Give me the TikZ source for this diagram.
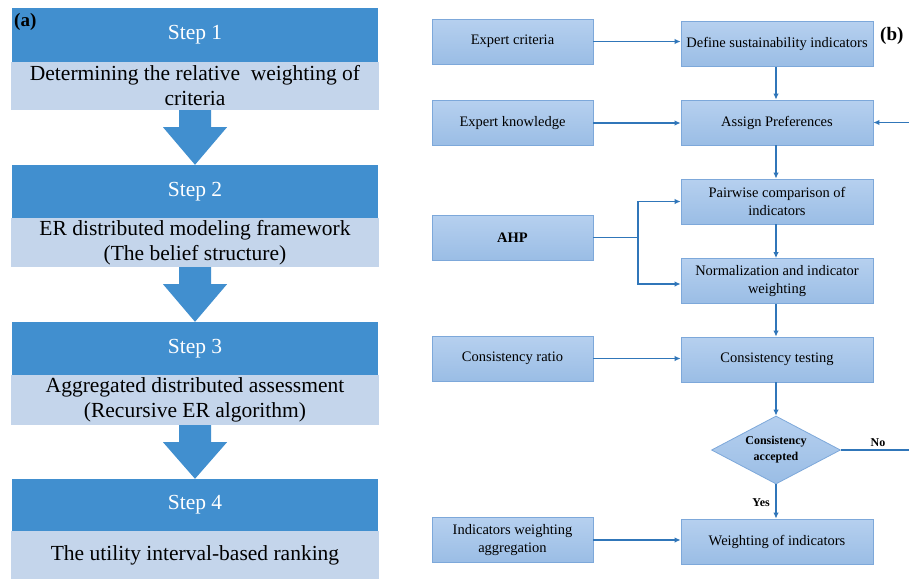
\documentclass[tikz,border=0pt]{standalone}
\usepackage{fontspec}
\setmainfont{Liberation Serif}
\usetikzlibrary{shapes.geometric,arrows.meta,calc}
\definecolor{dkblue}{RGB}{65,143,207}
\definecolor{ltblue}{RGB}{196,213,235}
\definecolor{boxtop}{RGB}{182,208,239}
\definecolor{boxbot}{RGB}{154,189,229}
\definecolor{boxline}{RGB}{125,168,218}
\definecolor{arr}{RGB}{48,118,185}
\newcommand{\myblockarrow}[2]{%
  \fill[dkblue] ($(#1.south)+(-16,0)$) -- ($(#1.south)+(16,0)$) -- ($(#1.south)+(16,17)$) -- ($(#1.south)+(32,17)$) -- (#2.north) -- ($(#1.south)+(-32,17)$) -- ($(#1.south)+(-16,17)$) -- cycle;}
\begin{document}
\begin{tikzpicture}[x=1pt,y=-1pt,
 stephead/.style={fill=dkblue, text=white, minimum width=366pt, inner sep=0pt, font=\fontsize{21.5}{25}\selectfont},
 stepbody/.style={fill=ltblue, text=black, minimum width=368pt, inner sep=0pt, align=center, font=\fontsize{21.5}{25}\selectfont},
 rbox/.style={draw=boxline, line width=0.8pt, top color=boxtop, bottom color=boxbot, inner sep=0pt, align=center, font=\fontsize{14.5}{17.5}\selectfont},
 lbox/.style={rbox, minimum width=161pt, minimum height=45pt},
 mbox/.style={rbox, minimum width=192pt, minimum height=45pt},
 link/.style={draw=arr, line width=1.9pt, -{Latex[length=6pt,width=5.5pt]}},
 plainlink/.style={draw=arr, line width=1.9pt},
 lab/.style={font=\bfseries\fontsize{12}{16}\selectfont, inner sep=1pt}
]
\useasboundingbox[fill=white] (0,0) rectangle (909,579);

% ---------- panel (a)
\node[stephead, minimum height=54pt] (s1h) at (195,35) {Step 1};
\node[stepbody, minimum height=48pt] (s1l) at (195,86) {Determining the relative\ \ weighting of\\criteria};
\node[stephead, minimum height=53pt] (s2h) at (195,191.5) {Step 2};
\node[stepbody, minimum height=49pt] (s2l) at (195,242.5) {ER distributed modeling framework\\(The belief structure)};
\node[stephead, minimum height=53pt] (s3h) at (195,348.5) {Step 3};
\node[stepbody, minimum height=50pt] (s3l) at (195,400) {Aggregated distributed assessment\\(Recursive ER algorithm)};
\node[stephead, minimum height=52pt] (s4h) at (195,505) {Step 4};
\node[stepbody, minimum height=48pt] (s4l) at (195,555) {The utility interval-based ranking};
\myblockarrow{s1l}{s2h}
\myblockarrow{s2l}{s3h}
\myblockarrow{s3l}{s4h}
\node[anchor=west, font=\bfseries\fontsize{19}{22}\selectfont, inner sep=0pt] (la) at (14,22) {(a)};

% ---------- panel (b)
\node[lbox] (ec) at (512.5,41.5) {Expert criteria};
\node[mbox] (dsi) at (777,44) {Define sustainability indicators};
\node[lbox] (ek) at (512.5,123) {Expert knowledge};
\node[mbox] (ap) at (777,122.5) {Assign Preferences};
\node[mbox] (pw) at (777,201.5) {Pairwise comparison of\\indicators};
\node[lbox, font=\bfseries\fontsize{14.5}{17.5}\selectfont] (ahp) at (512.5,237.5) {AHP};
\node[mbox] (nw) at (777,281) {Normalization and indicator\\weighting};
\node[lbox] (cr) at (512.5,358.5) {Consistency ratio};
\node[mbox] (ct) at (777,359.5) {Consistency testing};
\node[diamond, aspect=1.9, draw=boxline, line width=0.8pt, top color=boxtop, bottom color=boxbot,
      minimum width=129pt, minimum height=68pt, inner sep=0pt, align=center,
      font=\bfseries\fontsize{12}{16}\selectfont] (dia) at (776,450) {Consistency\\accepted};
\node[lbox] (iwa) at (512.5,540) {Indicators weighting\\aggregation};
\node[mbox] (wi) at (777,541.5) {Weighting of indicators};
\node[anchor=west, font=\bfseries\fontsize{19}{22}\selectfont, inner sep=0pt] (lb) at (880,36) {(b)};

\coordinate (fb) at (909,122.5);
\coordinate (noend) at (909,450);
\coordinate (j) at (638,237.5);

\draw[link] (ec.east) -- (ec.east -| dsi.west);
\draw[link] (dsi.south -| 776,0) -- (ap.north -| 776,0);
\draw[link] (ek.east) -- (ek.east -| ap.west);
\draw[link] (fb) -- (ap.east);
\draw[link] (ap.south -| 776,0) -- (pw.north -| 776,0);
\draw[plainlink] (ahp.east) -- (j);
\draw[link] (j) |- (pw.west);
\draw[link] (j) |- ($(nw.west)+(0,3)$);
\draw[link] (pw.south -| 776,0) -- (nw.north -| 776,0);
\draw[link] (nw.south -| 776,0) -- (ct.north -| 776,0);
\draw[link] (cr.east) -- (cr.east -| ct.west);
\draw[link] (ct.south -| 776,0) -- (dia.north);
\draw[plainlink] (dia.east) -- (noend);
\draw[link] (dia.south) -- (wi.north -| dia.south);
\draw[link] (iwa.east) -- (iwa.east -| wi.west);
\node[lab] (no) at (878,443) {No};
\node[lab, anchor=east] (yes) at (771,503) {Yes};
\end{tikzpicture}
\end{document}
